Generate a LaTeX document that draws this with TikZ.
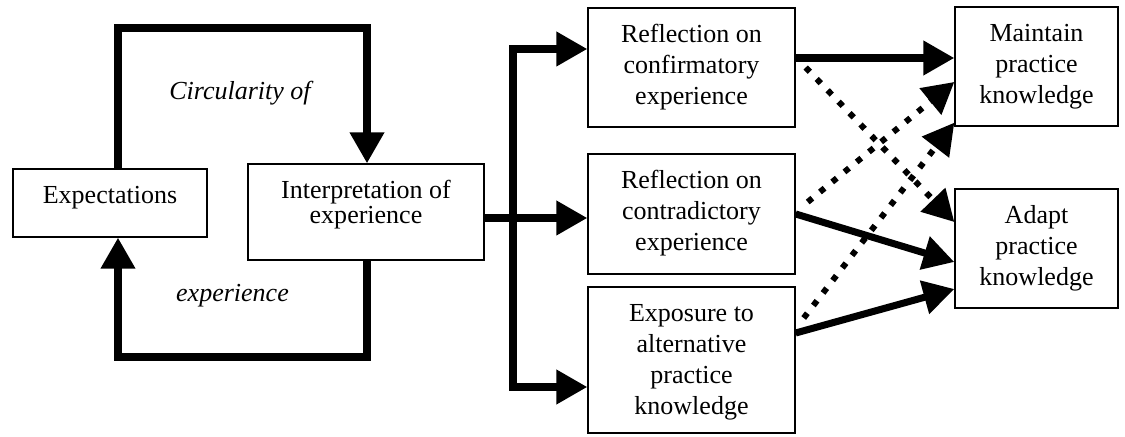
\documentclass[tikz,border=0pt]{standalone}
\usepackage{fontspec}
\setmainfont{Liberation Serif}
\usetikzlibrary{arrows.meta}

% text set at the top of a box of given width and height
\newcommand{\celltext}[3]{\parbox[c][#2][t]{#1}{\centering\rule{0pt}{19.9pt}#3}}

\begin{document}
\begin{tikzpicture}[font=\fontsize{14.8}{17.6}\selectfont,
  stage/.style={shape=rectangle, draw=black, line width=0.8pt, inner sep=0pt},
  flow/.style={line width=4pt, -{Triangle[length=17.6pt,width=18.8pt]}},
  dotflow/.style={line width=3.4pt, dash pattern=on 3.4pt off 5.6pt, -{Triangle[length=17.6pt,width=18.8pt]}}]
%%%%%%%%%%%%%%%%%%%%%%%%%%%%%%%%%%%%%%%%%%% HELP LINES
%\draw[help lines] (0,0) grid +(23,9);
\useasboundingbox (0,0) rectangle (22.5,8.72);

%%%%%%%%%%%%%%%%%%%%%%%%%%%%%%%%%%%%%%%%%%% elements
\node[stage](expect) at (2.20,4.66){\celltext{3.88cm}{1.36cm}{Expectations}};
\node[stage](interp) at (7.32,4.48){\celltext{4.72cm}{1.92cm}{Interpretation of\\[-3.8pt]experience}};
\node[stage](conf) at (13.83,7.37){\celltext{4.14cm}{2.38cm}{Reflection on\\confirmatory\\experience}};
\node[stage](contra) at (13.83,4.44){\celltext{4.14cm}{2.40cm}{Reflection on\\contradictory\\experience}};
\node[stage](expo) at (13.83,1.52){\celltext{4.14cm}{2.92cm}{Exposure to\\alternative\\practice\\knowledge}};
\node[stage](maintain) at (20.73,7.39){\celltext{3.26cm}{2.38cm}{Maintain\\practice\\knowledge}};
\node[stage](adapt) at (20.73,3.75){\celltext{3.26cm}{2.38cm}{Adapt\\practice\\knowledge}};

%%%%% loop
\coordinate (tl) at (2.36,8.16);
\coordinate (tr) at (7.34,8.16);
\coordinate (bl) at (2.36,1.58);
\coordinate (br) at (7.34,1.58);
\node[anchor=base, draw=none](circ) at (4.80,6.72){\itshape Circularity of};
\node[anchor=base, draw=none](exper) at (4.65,2.68){\itshape experience};
\draw[flow] (expect.north -| tl) -- (tl) -- (tr) -- (interp.north -| tr);
\draw[flow] (interp.south -| br) -- (br) -- (bl) -- (expect.south -| bl);

%%%%% branches
\coordinate (split) at (10.26,4.36);
\draw[line width=4pt] (interp.east |- split) -- (split);
\draw[flow] (split) -- (split -| contra.west);
\draw[flow] (split) |- ([yshift=0.37cm]conf.west);
\draw[flow] (split) |- ([yshift=-0.54cm]expo.west);

%%%%% edges
\draw[flow] ([yshift=0.19cm]conf.east) -- ([yshift=0.17cm]maintain.west);
\draw[dotflow] ([xshift=0.2cm]conf.east) -- ([yshift=0.53cm]adapt.west);
\draw[dotflow] ([shift={(0.24cm,0.24cm)}]contra.east) -- ([yshift=-0.31cm]maintain.west);
\draw[flow] (contra.east) -- ([yshift=-0.27cm]adapt.west);
\draw[dotflow] ([shift={(0.16cm,0.84cm)}]expo.east) -- ([yshift=0.08cm]maintain.south west);
\draw[flow] ([yshift=0.54cm]expo.east) -- ([yshift=-0.81cm]adapt.west);
\end{tikzpicture}
\end{document}
